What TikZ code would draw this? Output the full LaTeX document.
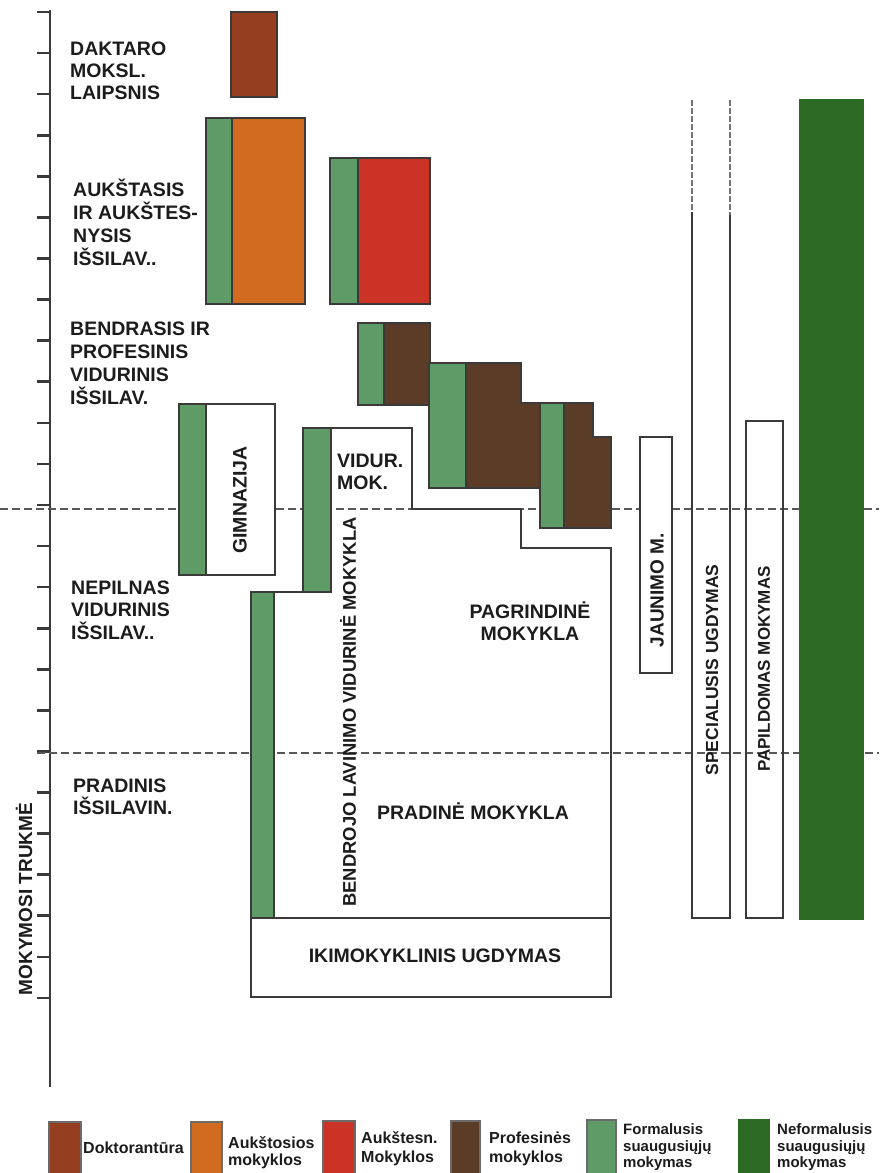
\documentclass[tikz,border=0pt]{standalone}
\usepackage{fontspec}
\setmainfont{Liberation Sans}
\definecolor{dokt}{HTML}{963F20}
\definecolor{aukst}{HTML}{D06B20}
\definecolor{aukstesn}{HTML}{CB3327}
\definecolor{prof}{HTML}{5B3D27}
\definecolor{formg}{HTML}{5F9B66}
\definecolor{neform}{HTML}{2D6A26}
\definecolor{edge}{HTML}{3C3A38}
\definecolor{txt}{HTML}{1C1C1C}
\tikzset{
  box/.style={draw=edge, line width=2.4pt, line join=miter},
  axisline/.style={draw=edge, line width=2.6pt},
  dashline/.style={draw=edge!85, line width=2pt, dash pattern=on 8pt off 4pt},
  topdash/.style={draw=edge!70, line width=2.6pt, dash pattern=on 6pt off 2pt},
  lbl/.style={font=\bfseries\fontsize{19.5}{22}\selectfont, text=txt, inner sep=0pt},
  vlbl/.style={lbl, rotate=90, anchor=center},
  leg/.style={font=\bfseries\fontsize{16}{18}\selectfont, text=txt, inner sep=0pt, anchor=base west},
  legbox/.style={draw=edge!75, line width=2pt}
}
\begin{document}
\begin{tikzpicture}[x=1pt, y={(0pt,-1pt)}]
\useasboundingbox (0,0) rectangle (879,1173);
% axis
\draw[axisline] (50,10) -- (50,1087);
\foreach \k in {0,...,24} \draw[axisline] (37,{12+41.08*\k}) -- (50,{12+41.08*\k});
% general education block (white fill)
\fill[white] (251,592) -- (303,592) -- (303,428) -- (412,428) -- (412,509) -- (521,509) -- (521,548) -- (611,548) -- (611,918) -- (251,918) -- cycle;
% dashed level lines
\draw[dashline] (0,509) -- (879,509);
\draw[dashline] (37,753) -- (879,753);
% doctorate
\fill[dokt] (231,12) rectangle (277,97);
\draw[box] (231,12) rectangle (277,97);
% higher education
\fill[formg] (206,118) rectangle (232,304);
\fill[aukst] (232,118) rectangle (305,304);
\draw[box] (206,118) rectangle (305,304);
\draw[box] (232,118) -- (232,304);
% college
\fill[formg] (330,158) rectangle (358,304);
\fill[aukstesn] (358,158) rectangle (430,304);
\draw[box] (330,158) rectangle (430,304);
\draw[box] (358,158) -- (358,304);
% vocational 1
\fill[formg] (358,323) rectangle (384,405);
\fill[prof] (384,323) rectangle (430,405);
\draw[box] (358,323) rectangle (430,405);
\draw[box] (384,323) -- (384,405);
% vocational 2
\fill[prof] (429,363) -- (521,363) -- (521,403) -- (540,403) -- (540,488) -- (429,488) -- cycle;
\fill[formg] (429,363) rectangle (466,488);
\draw[box] (429,363) -- (521,363) -- (521,403) -- (540,403) -- (540,488) -- (429,488) -- cycle;
\draw[box] (466,363) -- (466,488);
% vocational 3
\fill[prof] (540,403) -- (593,403) -- (593,437) -- (611,437) -- (611,528) -- (540,528) -- cycle;
\fill[formg] (540,403) rectangle (564,528);
\draw[box] (540,403) -- (593,403) -- (593,437) -- (611,437) -- (611,528) -- (540,528) -- cycle;
\draw[box] (564,403) -- (564,528);
% gymnasium
\fill[formg] (179,404) rectangle (206,575);
\fill[white] (206,404) rectangle (275,575);
\draw[box] (179,404) rectangle (275,575);
\draw[box] (206,404) -- (206,575);
% general education block outline and green strips
\draw[box] (251,592) -- (303,592) -- (303,428) -- (412,428) -- (412,509) -- (521,509) -- (521,548) -- (611,548) -- (611,918) -- (251,918) -- cycle;
\fill[formg] (251,592) rectangle (274,918);
\draw[box] (251,592) rectangle (274,918);
\fill[formg] (303,428) rectangle (331,592);
\draw[box] (303,428) rectangle (331,592);
% pre-school
\fill[white] (251,918) rectangle (611,997);
\draw[box] (251,918) rectangle (611,997);
% youth school
\fill[white] (640,437) rectangle (672,673);
\draw[box] (640,437) rectangle (672,673);
% special education
\draw[topdash] (692,100) -- (692,212);
\draw[topdash] (730,100) -- (730,215);
\draw[box] (692,212) -- (692,918) -- (730,918) -- (730,215);
% supplementary
\draw[box] (746,421) rectangle (783,918);
% non-formal
\fill[neform] (799,99) rectangle (864,920);
% left labels
\foreach \t [count=\i] in {DAKTARO,MOKSL.,LAIPSNIS}
  \node[lbl, anchor=base west] (dak\i) at (70,{33+22*\i}) {\t};
\foreach \t [count=\i] in {AUKŠTASIS,IR AUKŠTES-,NYSIS,IŠSILAV..}
  \node[lbl, anchor=base west] (auk\i) at (73,{173+23*\i}) {\t};
\foreach \t [count=\i] in {BENDRASIS IR,PROFESINIS,VIDURINIS,IŠSILAV.}
  \node[lbl, anchor=base west] (ben\i) at (70,{312+23*\i}) {\t};
\foreach \t [count=\i] in {NEPILNAS,VIDURINIS,IŠSILAV..}
  \node[lbl, anchor=base west] (nep\i) at (71,{571.5+22.5*\i}) {\t};
\foreach \t [count=\i] in {PRADINIS,IŠSILAVIN.}
  \node[lbl, anchor=base west] (pra\i) at (73,{770+22*\i}) {\t};
\node[vlbl, font=\bfseries\fontsize{19}{22}\selectfont] (axislbl) at (24,899) {MOKYMOSI TRUKMĖ};
% box labels
\node[vlbl] (gimn) at (240,500) {GIMNAZIJA};
\node[vlbl, font=\bfseries\fontsize{18.4}{22}\selectfont] (bend) at (348,712) {BENDROJO LAVINIMO VIDURINĖ MOKYKLA};
\node[lbl, anchor=base west] (vid1) at (337,467) {VIDUR.};
\node[lbl, anchor=base west] (vid2) at (337,489) {MOK.};
\node[lbl, anchor=base] (pag1) at (530,618) {PAGRINDINĖ};
\node[lbl, anchor=base] (pag2) at (530,640) {MOKYKLA};
\node[lbl, anchor=base] (prad) at (473,819) {PRADINĖ MOKYKLA};
\node[lbl, anchor=base] (iki) at (435,962) {IKIMOKYKLINIS UGDYMAS};
\node[vlbl, font=\bfseries\fontsize{19}{22}\selectfont] (jaun) at (657,590) {JAUNIMO M.};
\node[vlbl, font=\bfseries\fontsize{17.5}{22}\selectfont] (spec) at (712,670) {SPECIALUSIS UGDYMAS};
\node[vlbl, font=\bfseries\fontsize{17}{22}\selectfont] (papi) at (764,669) {PAPILDOMAS MOKYMAS};
% legend
\fill[dokt] (49,1122) rectangle (81,1180); \draw[legbox] (49,1122) rectangle (81,1180);
\node[leg] (l1) at (83,1153) {Doktorantūra};
\fill[aukst] (191,1122) rectangle (222,1180); \draw[legbox] (191,1122) rectangle (222,1180);
\node[leg] (l2a) at (228,1148) {Aukštosios};
\node[leg] (l2b) at (228,1165) {mokyklos};
\fill[aukstesn] (323,1121) rectangle (355,1180); \draw[legbox] (323,1121) rectangle (355,1180);
\node[leg] (l3a) at (361,1143) {Aukštesn.};
\node[leg] (l3b) at (361,1162) {Mokyklos};
\fill[prof] (451,1121) rectangle (480,1180); \draw[legbox] (451,1121) rectangle (480,1180);
\node[leg] (l4a) at (489,1143) {Profesinės};
\node[leg] (l4b) at (489,1162) {mokyklos};
\fill[formg] (587,1120) rectangle (616,1180); \draw[legbox] (587,1120) rectangle (616,1180);
\node[leg, font=\bfseries\fontsize{15}{17}\selectfont] (l5a) at (623,1134) {Formalusis};
\node[leg, font=\bfseries\fontsize{15}{17}\selectfont] (l5b) at (623,1151) {suaugusiųjų};
\node[leg, font=\bfseries\fontsize{15}{17}\selectfont] (l5c) at (623,1167) {mokymas};
\fill[neform] (738,1119) rectangle (770,1180);
\node[leg, font=\bfseries\fontsize{15}{17}\selectfont] (l6a) at (777,1134) {Neformalusis};
\node[leg, font=\bfseries\fontsize{15}{17}\selectfont] (l6b) at (777,1151) {suaugusiųjų};
\node[leg, font=\bfseries\fontsize{15}{17}\selectfont] (l6c) at (777,1167) {mokymas};
\end{tikzpicture}
\end{document}
